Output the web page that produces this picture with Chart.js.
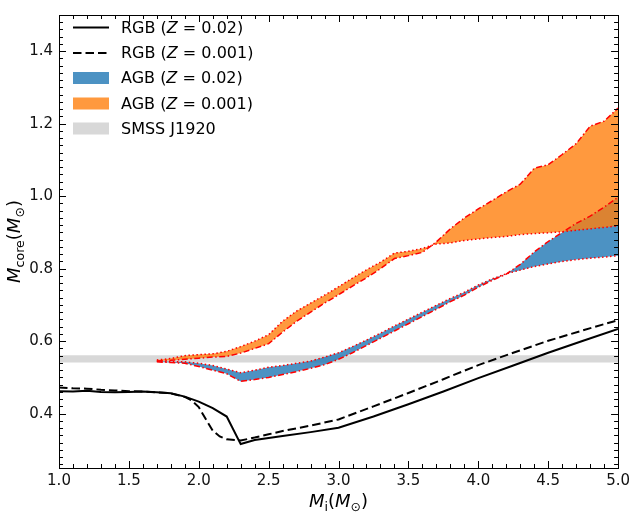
<!DOCTYPE html>
<html lang="en">
<head>
  <meta charset="UTF-8">
  <title>Core mass vs initial mass</title>
  <style>
    body { margin: 0; background: #fff; }
    #wrap { width: 634px; height: 514px; }
  </style>
</head>
<body>
  <div id="wrap"><canvas id="coreChart" width="634" height="514"></canvas></div>
  <script src="https://cdn.jsdelivr.net/npm/chart.js"></script>
  <script>
    // RGB core masses
    const rgbMassZ002 = [1.0, 1.1, 1.2, 1.3, 1.4, 1.5, 1.6, 1.7, 1.8, 1.9, 2.0, 2.1, 2.2, 2.3, 2.4, 2.5, 2.6, 2.8, 3.0, 3.25, 3.5, 3.75, 4.0, 4.25, 4.5, 4.75, 5.0];
    const rgbCoreZ002 = [0.462, 0.461, 0.463, 0.460, 0.459, 0.460, 0.461, 0.459, 0.456, 0.447, 0.433, 0.415, 0.392, 0.316, 0.327, 0.333, 0.338, 0.349, 0.361, 0.392, 0.426, 0.461, 0.498, 0.533, 0.568, 0.601, 0.634];
    const rgbMassZ0001 = [1.0, 1.1, 1.2, 1.3, 1.4, 1.5, 1.6, 1.7, 1.8, 1.9, 1.95, 2.0, 2.05, 2.1, 2.15, 2.2, 2.3, 2.4, 2.5, 2.6, 2.8, 3.0, 3.25, 3.5, 3.75, 4.0, 4.25, 4.5, 4.75, 5.0];
    const rgbCoreZ0001 = [0.472, 0.470, 0.469, 0.466, 0.464, 0.462, 0.461, 0.459, 0.456, 0.446, 0.436, 0.418, 0.385, 0.353, 0.337, 0.329, 0.326, 0.334, 0.343, 0.352, 0.367, 0.384, 0.420, 0.457, 0.495, 0.534, 0.568, 0.601, 0.630, 0.658];

    // AGB core mass ranges (two edges each)
    const agbMass = [1.7, 1.8, 1.9, 2.0, 2.1, 2.2, 2.3, 2.4, 2.5, 2.6, 2.7, 2.8, 2.9, 3.0, 3.1, 3.2, 3.3, 3.4, 3.5, 3.6, 3.7, 3.8, 3.9, 4.0, 4.1, 4.2, 4.3, 4.4, 4.5, 4.6, 4.7, 4.8, 4.9, 5.0];
    const agbZ002Dotted = [0.545, 0.543, 0.543, 0.539, 0.533, 0.523, 0.513, 0.520, 0.528, 0.533, 0.539, 0.545, 0.556, 0.568, 0.585, 0.603, 0.622, 0.642, 0.661, 0.680, 0.699, 0.718, 0.735, 0.755, 0.772, 0.786, 0.796, 0.806, 0.813, 0.820, 0.825, 0.829, 0.832, 0.836];
    const agbZ002DashDot = [0.543, 0.541, 0.539, 0.530, 0.520, 0.510, 0.489, 0.494, 0.500, 0.508, 0.516, 0.525, 0.535, 0.550, 0.568, 0.588, 0.608, 0.628, 0.648, 0.668, 0.688, 0.709, 0.727, 0.749, 0.768, 0.785, 0.812, 0.846, 0.875, 0.900, 0.925, 0.945, 0.970, 0.997];
    const agbZ0001Dotted = [0.548, 0.552, 0.560, 0.563, 0.565, 0.572, 0.585, 0.600, 0.618, 0.655, 0.683, 0.705, 0.727, 0.750, 0.774, 0.797, 0.818, 0.843, 0.848, 0.856, 0.868, 0.871, 0.878, 0.882, 0.886, 0.889, 0.894, 0.897, 0.899, 0.902, 0.906, 0.910, 0.914, 0.918];
    const agbZ0001DashDot = [0.545, 0.547, 0.550, 0.553, 0.556, 0.558, 0.567, 0.580, 0.593, 0.625, 0.655, 0.680, 0.705, 0.728, 0.752, 0.775, 0.800, 0.828, 0.836, 0.845, 0.874, 0.910, 0.940, 0.965, 0.988, 1.012, 1.033, 1.077, 1.087, 1.115, 1.145, 1.193, 1.207, 1.243];

    // SMSS J1920 band
    const smssMassRange = [1.0, 5.0];
    const smssCoreLow = 0.541;
    const smssCoreHigh = 0.561;

    // axes
    const xTicks = [1.0, 1.5, 2.0, 2.5, 3.0, 3.5, 4.0, 4.5, 5.0];
    const yTicks = [0.4, 0.6, 0.8, 1.0, 1.2, 1.4];
    const legendLabels = ['RGB (Z = 0.02)', 'RGB (Z = 0.001)', 'AGB (Z = 0.02)', 'AGB (Z = 0.001)', 'SMSS J1920'];

    const BLUE = 'rgba(31, 119, 180, 0.8)';
    const ORANGE = 'rgba(255, 127, 14, 0.8)';
    const GREY = '#d8d8d8';
    const DOTTED = [1.5, 2.5];
    const DASHDOT = [6, 2.5, 1.5, 2.5];
    const DASHED = [8.5, 4];
    const FONT = 'DejaVu Sans';

    function pts(xs, ys) {
      return xs.map((x, i) => ({ x: x, y: ys[i] }));
    }

    Chart.defaults.font.family = FONT;

    // text made of parts (italic / subscript)
    function drawParts(ctx, parts, size) {
      let w = 0;
      parts.forEach(p => {
        const s = p.sub ? size * 0.7 : size;
        ctx.font = (p.it ? 'italic ' : '') + s + 'px "' + FONT + '"';
        p.w = ctx.measureText(p.t).width;
        p.s = s;
        w += p.w;
      });
      return w;
    }
    function renderParts(ctx, parts, x, y, size) {
      let cx = x;
      parts.forEach(p => {
        ctx.font = (p.it ? 'italic ' : '') + p.s + 'px "' + FONT + '"';
        ctx.fillText(p.t, cx, p.sub ? y + size * 0.22 : y);
        cx += p.w;
      });
    }
    function labelParts(text) {
      return text.split(/(Z)/).filter(t => t).map(t => ({ t: t, it: t === 'Z' }));
    }

    const frame = {
      id: 'frame',
      afterDatasetsDraw(chart) {
        const { ctx, chartArea: a, scales: { x, y } } = chart;
        ctx.save();
        ctx.strokeStyle = '#000';
        ctx.lineWidth = 1;
        ctx.beginPath();
        for (let i = 0; i <= 40; i++) {
          const px = Math.round(x.getPixelForValue(1 + i * 0.1)) + 0.5;
          const len = i % 5 === 0 ? 7 : 4;
          ctx.moveTo(px, a.bottom); ctx.lineTo(px, a.bottom - len);
          ctx.moveTo(px, a.top); ctx.lineTo(px, a.top + len);
        }
        for (let i = 13; i <= 75; i++) {
          const py = Math.round(y.getPixelForValue(i * 0.02)) + 0.5;
          const len = i % 10 === 0 ? 7 : 4;
          ctx.moveTo(a.left, py); ctx.lineTo(a.left + len, py);
          ctx.moveTo(a.right, py); ctx.lineTo(a.right - len, py);
        }
        ctx.stroke();
        ctx.strokeRect(Math.round(a.left) + 0.5, Math.round(a.top) + 0.5, Math.round(a.right - a.left), Math.round(a.bottom - a.top));

        // legend
        const rowY = [27.5, 53, 78, 103.5, 128.5];
        ctx.textBaseline = 'middle';
        ctx.textAlign = 'left';
        ctx.fillStyle = '#000';
        legendLabels.forEach((lab, i) => {
          const yy = rowY[i];
          if (i < 2) {
            ctx.setLineDash(i === 0 ? [] : DASHED);
            ctx.lineWidth = 2;
            ctx.beginPath();
            ctx.moveTo(73, yy); ctx.lineTo(109, yy);
            ctx.stroke();
            ctx.setLineDash([]);
          } else {
            ctx.fillStyle = [BLUE, ORANGE, GREY][i - 2];
            ctx.fillRect(73, yy - 6, 36, 12);
            ctx.fillStyle = '#000';
          }
          const parts = labelParts(lab);
          drawParts(ctx, parts, 16);
          renderParts(ctx, parts, 121, yy + 1, 16);
        });

        // axis titles
        ctx.textBaseline = 'alphabetic';
        const xt = [{ t: 'M', it: true }, { t: 'i', sub: true }, { t: '(' }, { t: 'M', it: true }, { t: '\u2299', sub: true }, { t: ')' }];
        const xw = drawParts(ctx, xt, 18);
        renderParts(ctx, xt, (a.left + a.right) / 2 - xw / 2, 507, 18);

        const yt = [{ t: 'M', it: true }, { t: 'core', sub: true }, { t: '(' }, { t: 'M', it: true }, { t: '\u2299', sub: true }, { t: ')' }];
        const yw = drawParts(ctx, yt, 18);
        ctx.translate(20, (a.top + a.bottom) / 2);
        ctx.rotate(-Math.PI / 2);
        renderParts(ctx, yt, -yw / 2, 0, 18);
        ctx.restore();
      }
    };

    const edge = (data, dash, order) => ({
      data: data, borderColor: 'red', borderWidth: 1.5, borderDash: dash,
      pointRadius: 0, fill: false, order: order
    });

    const datasets = [
      { data: pts(rgbMassZ002, rgbCoreZ002), borderColor: '#000', borderWidth: 2, pointRadius: 0, fill: false, order: 0 },
      { data: pts(rgbMassZ0001, rgbCoreZ0001), borderColor: '#000', borderWidth: 2, borderDash: DASHED, pointRadius: 0, fill: false, order: 1 },
      // AGB Z=0.001 (index 2, 3)
      Object.assign(edge(pts(agbMass, agbZ0001Dotted), DOTTED, 2), { fill: { target: 3, above: ORANGE, below: ORANGE }, backgroundColor: ORANGE }),
      edge(pts(agbMass, agbZ0001DashDot), DASHDOT, 3),
      // AGB Z=0.02 (index 4, 5)
      Object.assign(edge(pts(agbMass, agbZ002Dotted), DOTTED, 4), { fill: { target: 5, above: BLUE, below: BLUE }, backgroundColor: BLUE }),
      edge(pts(agbMass, agbZ002DashDot), DASHDOT, 5),
      // SMSS band (index 6, 7)
      { data: pts(smssMassRange, [smssCoreLow, smssCoreLow]), borderWidth: 0, borderColor: 'rgba(0,0,0,0)', pointRadius: 0, fill: { target: 7, above: GREY, below: GREY }, order: 6 },
      { data: pts(smssMassRange, [smssCoreHigh, smssCoreHigh]), borderWidth: 0, borderColor: 'rgba(0,0,0,0)', pointRadius: 0, fill: false, order: 7 }
    ];

    new Chart(document.getElementById('coreChart').getContext('2d'), {
      type: 'line',
      data: { datasets: datasets },
      options: {
        responsive: false,
        animation: false,
        layout: { padding: { top: 5, right: 12, left: 0, bottom: 0 } },
        plugins: {
          legend: { display: false },
          tooltip: { enabled: false },
          filler: { drawTime: 'beforeDatasetsDraw' }
        },
        scales: {
          x: {
            type: 'linear', min: 1, max: 5,
            afterBuildTicks: s => { s.ticks = xTicks.map(v => ({ value: v })); },
            afterFit: s => { s.height = 46; },
            grid: { display: false, drawTicks: false },
            border: { display: false },
            ticks: { padding: 4, color: '#111', font: { size: 15 }, maxRotation: 0, callback: v => v.toFixed(1) }
          },
          y: {
            type: 'linear', min: 0.25, max: 1.5,
            afterBuildTicks: s => { s.ticks = yTicks.map(v => ({ value: v })); },
            afterFit: s => { s.width = 59; },
            grid: { display: false, drawTicks: false },
            border: { display: false },
            ticks: { padding: 6, color: '#111', font: { size: 15 }, callback: v => v.toFixed(1) }
          }
        }
      },
      plugins: [frame]
    });
  </script>
</body>
</html>
